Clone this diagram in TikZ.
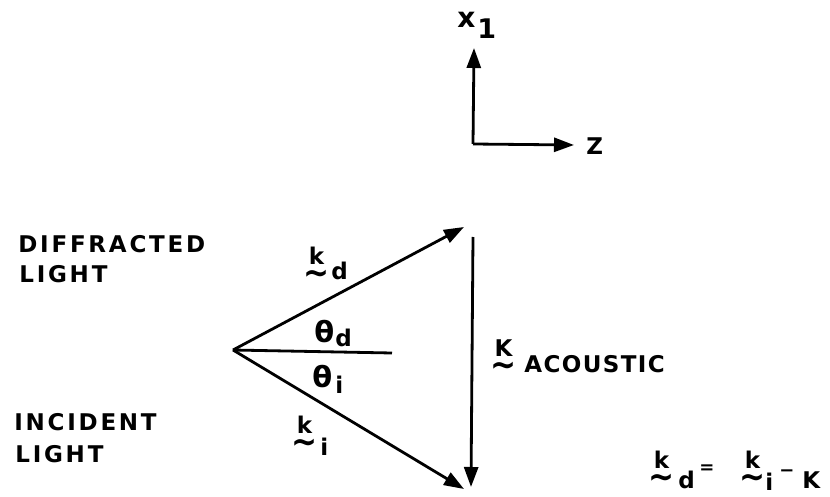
\documentclass[tikz,border=0pt]{standalone}
\usepackage{fontspec}
\setmainfont{DejaVu Sans}
\usetikzlibrary{arrows.meta}
\newcommand\tk[1]{\leavevmode\vtop{\halign{\hfil##\hfil\cr #1\cr\noalign{\vskip-6pt}\scalebox{1.35}[1.5]{∼}\cr}}}
\begin{document}
\begin{tikzpicture}[x=1pt,y=-1pt,line width=2.8pt,
  vec/.style={-{Triangle[length=20pt,width=14pt]}},
  lbl/.style={font=\fontsize{23}{27}\selectfont\bfseries\addfontfeature{LetterSpace=12},inner sep=0pt,align=left},
  sym/.style={font=\fontsize{23}{26}\selectfont\bfseries,inner sep=0pt,anchor=base west},
  big/.style={font=\fontsize{29}{30}\selectfont\bfseries,inner sep=0pt,anchor=base west}]
\useasboundingbox (0,0) rectangle (830,497);
% axes
\coordinate (c) at (473,144);
\coordinate (xt) at (474,48);
\coordinate (zt) at (574,145);
\draw[vec] (c) -- (xt);
\draw[vec] (c) -- (zt);
\node[sym,font=\fontsize{28}{28}\selectfont\bfseries] (xlab) at (456,28) {x};
\node[sym,font=\fontsize{27}{28}\selectfont\bfseries] (xsub) at (476,39) {1};
\node[lbl,anchor=west] (zlab) at (585,146) {Z};
% triangle
\coordinate (O) at (233,350);
\coordinate (D) at (464,227);
\coordinate (I) at (464,489);
\coordinate (H) at (392,353);
\coordinate (A1) at (473,237);
\coordinate (A2) at (471,487);
\draw[vec] (O) -- (D);
\draw[vec] (O) -- (I);
\draw (O) -- (H);
\draw[vec] (A1) -- (A2);
% labels
\node[lbl,anchor=base west] (dl1) at (17,252) {DIFFRACTED};
\node[lbl,anchor=base west] (dl2) at (18,282) {LIGHT};
\node[lbl,anchor=base west] (il1) at (13,430) {INCIDENT};
\node[lbl,anchor=base west] (il2) at (14,462) {LIGHT};
% k_d
\node[sym] (kd) at (302,265) {\tk{k}};
\node[sym] (kds) at (330,279) {d};
% theta_d, theta_i
\node[big] (td) at (313,342) {θ};
\node[sym] (tds) at (334,346) {d};
\node[big] (ti) at (311,387) {θ};
\node[sym] (tis) at (334,393) {i};
% k_i
\node[sym] (ki) at (290,433) {\tk{k}};
\node[sym] (kis) at (319,455) {i};
% K acoustic
\node[sym] (ka) at (489,356) {\tk{K}};
\node[sym] (ac) at (523,372) {\addfontfeature{LetterSpace=6}ACOUSTIC};
% equation
\node[sym] (e1) at (647,468) {\tk{k}};
\node[sym] (e2) at (677,488) {d};
\node[font=\fontsize{18}{18}\selectfont\bfseries,inner sep=0pt] (e3) at (707,469) {=};
\node[sym] (e4) at (738,468) {\tk{k}};
\node[sym] (e5) at (764,490) {i};
\node[font=\fontsize{18}{18}\selectfont\bfseries,inner sep=0pt] (e6) at (787,473) {−};
\node[sym] (e7) at (801,488) {K};
\end{tikzpicture}
\end{document}
